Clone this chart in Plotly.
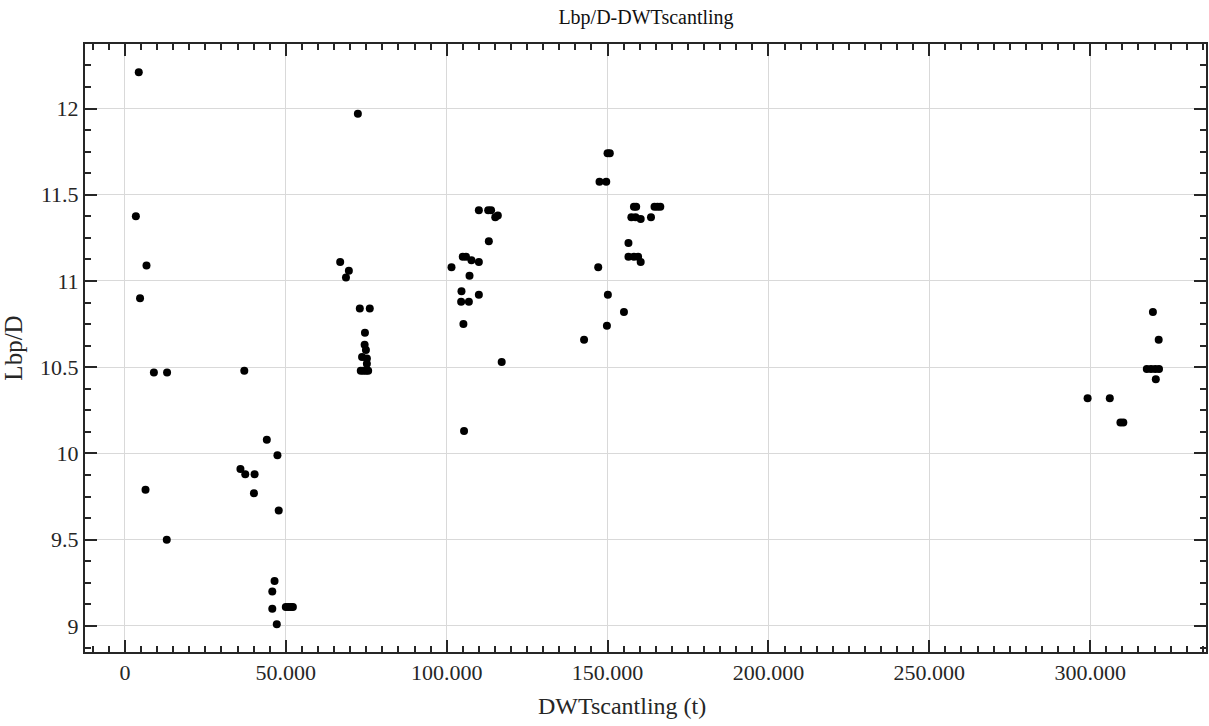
import plotly.graph_objects as go

# DWT scantling in thousands of tonnes (multiplied by 1000 below)
dwt_k = [
    4.3, 3.4, 6.7, 4.7, 9.0, 13.1, 6.4, 13.0,
    37.1, 44.1, 47.4, 35.9, 37.4, 40.3, 40.1, 47.8, 46.5, 45.8, 45.8, 47.2,
    50.0, 50.8, 51.6, 52.2,
    66.9, 69.6, 68.7, 72.4, 73.0, 76.1, 74.6, 74.5, 74.9, 73.7, 75.2, 75.2,
    73.3, 74.1, 74.9, 75.6,
    110.0, 112.9, 113.8, 115.1, 115.9, 113.1, 105.0, 106.0, 107.7, 110.0,
    101.5, 107.1, 104.6, 110.0, 104.5, 106.9, 105.2, 117.1, 105.4,
    150.0, 150.7, 147.5, 149.6, 158.2, 158.9, 164.6, 165.5, 166.4, 157.4,
    158.7, 160.3, 163.5, 156.5, 156.5, 158.2, 159.5, 160.3, 147.1, 150.1,
    155.1, 149.8, 142.7,
    319.5, 321.3, 317.6, 318.9, 320.2, 321.4, 320.4, 299.2, 306.1, 309.4, 310.3,
]
lbp_d = [
    12.21, 11.375, 11.09, 10.90, 10.47, 10.47, 9.79, 9.50,
    10.48, 10.08, 9.99, 9.91, 9.88, 9.88, 9.77, 9.67, 9.26, 9.20, 9.10, 9.01,
    9.11, 9.11, 9.11, 9.11,
    11.11, 11.06, 11.02, 11.97, 10.84, 10.84, 10.70, 10.63, 10.60, 10.56, 10.55, 10.52,
    10.48, 10.48, 10.48, 10.48,
    11.41, 11.41, 11.41, 11.37, 11.38, 11.23, 11.14, 11.14, 11.12, 11.11,
    11.08, 11.03, 10.94, 10.92, 10.88, 10.88, 10.75, 10.53, 10.13,
    11.74, 11.74, 11.575, 11.575, 11.43, 11.43, 11.43, 11.43, 11.43, 11.37,
    11.37, 11.36, 11.37, 11.22, 11.14, 11.14, 11.14, 11.11, 11.08, 10.92,
    10.82, 10.74, 10.66,
    10.82, 10.66, 10.49, 10.49, 10.49, 10.49, 10.43, 10.32, 10.32, 10.18, 10.18,
]
dwt = [v * 1000 for v in dwt_k]

x_tick_vals = [0, 50000, 100000, 150000, 200000, 250000, 300000]
x_tick_text = ["0", "50.000", "100.000", "150.000", "200.000", "250.000", "300.000"]

FONT = "Liberation Serif"
AX = "#262626"
TXT = "#262626"

fig = go.Figure(go.Scatter(
    x=dwt, y=lbp_d, mode="markers",
    marker=dict(color="black", size=8, line=dict(width=0)),
    hoverinfo="x+y",
))

common = dict(
    showline=True, linecolor=AX, linewidth=2, mirror="allticks",
    ticks="inside", ticklen=12, tickwidth=2, tickcolor=AX,
    showgrid=True, gridcolor="#d9d9d9", gridwidth=1,
    zeroline=False,
    tickfont=dict(family=FONT, size=22, color=TXT),
)

fig.update_xaxes(
    range=[-12410, 336000],
    tickmode="array", tickvals=x_tick_vals, ticktext=x_tick_text,
    minor=dict(dtick=5000, tick0=0, ticks="inside", ticklen=6, tickwidth=2,
               tickcolor=AX, showgrid=False),
    **common,
)
fig.update_yaxes(
    range=[8.849, 12.374],
    dtick=0.5, tick0=9,
    minor=dict(dtick=0.125, tick0=9, ticks="inside", ticklen=6, tickwidth=2,
               tickcolor=AX, showgrid=False),
    title=dict(text="Lbp/D", font=dict(family=FONT, size=25, color=TXT), standoff=12),
    **common,
)

fig.update_layout(
    width=1209, height=726,
    margin=dict(l=85, r=1, t=44, b=74),
    paper_bgcolor="white", plot_bgcolor="white",
    showlegend=False,
    title=dict(text="Lbp/D-DWTscantling", x=(646) / 1209, xanchor="center",
               y=1 - 17 / 726, yanchor="middle",
               font=dict(family=FONT, size=20, color="#111111")),
    annotations=[dict(
        text="DWTscantling (t)", xref="paper", yref="paper",
        x=0.479, y=-0.088, xanchor="center", yanchor="middle", showarrow=False,
        font=dict(family=FONT, size=24, color=TXT),
    )],
)

fig.write_html("out.html")
